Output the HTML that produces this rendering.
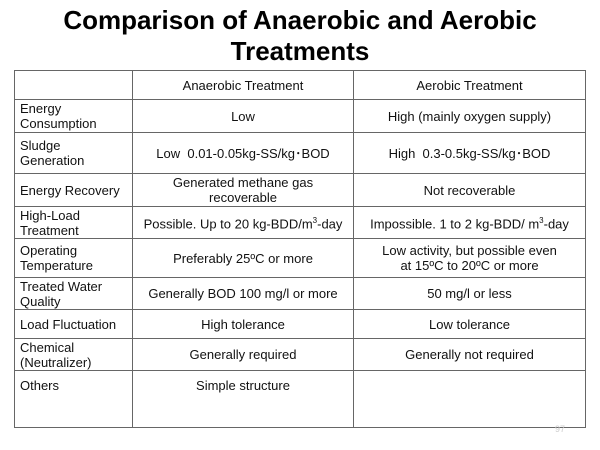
<!DOCTYPE html>
<html><head><style>
body{margin:0;width:600px;height:450px;background:#fff;font-family:"Liberation Sans",sans-serif;position:relative;overflow:hidden}
h1{position:absolute;top:5px;left:0;width:600px;margin:0;text-align:center;font-size:26px;line-height:31px;font-weight:bold;color:#000}
table{position:absolute;left:14px;top:70px;border-collapse:collapse;font-size:13px;color:#111}
td{border:1px solid #666;padding:0 4px;text-align:center;line-height:15px}
td:first-child{text-align:left;padding-left:5px}
.pg{position:absolute;left:555px;top:424px;font-size:9px;color:#ccc}
</style></head><body>
<h1>Comparison of Anaerobic and Aerobic<br>Treatments</h1>
<table>
<col style="width:118px"><col style="width:221px"><col style="width:232px">
<tr style="height:29px"><td></td><td>Anaerobic Treatment</td><td>Aerobic Treatment</td></tr>
<tr style="height:33px"><td>Energy<br>Consumption</td><td>Low</td><td>High (mainly oxygen supply)</td></tr>
<tr style="height:41px"><td>Sludge<br>Generation</td><td>Low&nbsp; 0.01-0.05kg-SS/kg･BOD</td><td>High&nbsp; 0.3-0.5kg-SS/kg･BOD</td></tr>
<tr style="height:33px"><td>Energy Recovery</td><td>Generated methane gas<br>recoverable</td><td>Not recoverable</td></tr>
<tr style="height:32px"><td>High-Load<br>Treatment</td><td>Possible. Up to 20 kg-BDD/m<sup style="font-size:8px">3</sup>-day</td><td>Impossible. 1 to 2 kg-BDD/ m<sup style="font-size:8px">3</sup>-day</td></tr>
<tr style="height:39px"><td>Operating<br>Temperature</td><td>Preferably 25ºC or more</td><td>Low activity, but possible even<br>at 15ºC to 20ºC or more</td></tr>
<tr style="height:32px"><td>Treated Water<br>Quality</td><td>Generally BOD 100 mg/l or more</td><td>50 mg/l or less</td></tr>
<tr style="height:29px"><td>Load Fluctuation</td><td>High tolerance</td><td>Low tolerance</td></tr>
<tr style="height:32px"><td>Chemical<br>(Neutralizer)</td><td>Generally required</td><td>Generally not required</td></tr>
<tr style="height:57px"><td style="vertical-align:top;padding-top:7px">Others</td><td style="vertical-align:top;padding-top:7px">Simple structure</td><td></td></tr>
</table>
<div class="pg">97</div>
</body></html>
